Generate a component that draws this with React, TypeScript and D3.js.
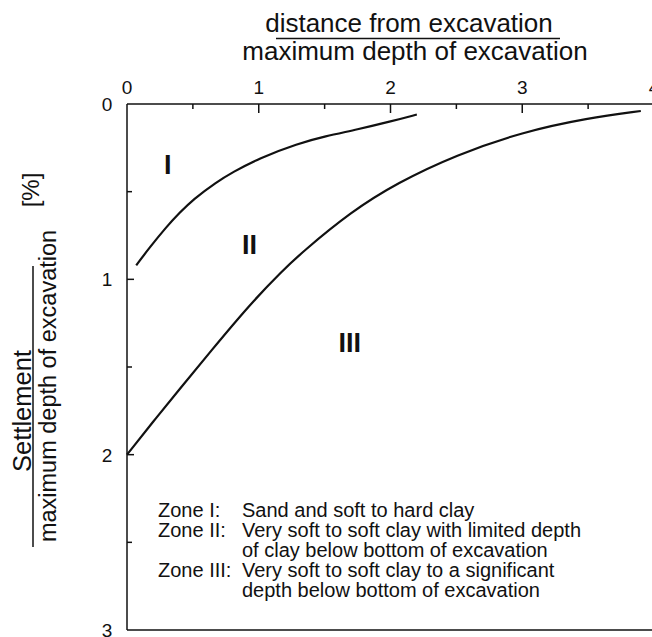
import React from "react";
import * as d3 from "d3";

// ---- data ----
const xTicks = [0, 1, 2, 3, 4];
const xMinorTicks = [0.5, 1.5, 2.5, 3.5];
const yTicks = [0, 1, 2, 3];
const yMinorTicks = [0.5, 1.5, 2.5];

const curveIX = [0.07, 0.17, 0.3, 0.4, 0.5, 0.68, 0.8, 1.0, 1.3, 1.5, 1.75, 2.0, 2.2];
const curveIY = [0.92, 0.82, 0.7, 0.62, 0.545, 0.445, 0.39, 0.31, 0.225, 0.185, 0.145, 0.1, 0.06];

const curveIIX = [0, 0.2, 0.4, 0.63, 0.93, 1.18, 1.33, 1.7, 2.05, 2.5, 3.0, 3.5, 3.9];
const curveIIY = [2.0, 1.81, 1.625, 1.415, 1.145, 0.95, 0.845, 0.615, 0.45, 0.29, 0.16, 0.08, 0.04];

const zoneLabels = ["I", "II", "III"];
const zoneLabelX = [0.31, 0.93, 1.69];
const zoneLabelY = [0.34, 0.8, 1.36];

const legendKeys = ["Zone I:", "Zone II:", "", "Zone III:", ""];
const legendTexts = [
  "Sand and soft to hard clay",
  "Very soft to soft clay with limited depth",
  "of clay below bottom of excavation",
  "Very soft to soft clay to a significant",
  "depth below bottom of excavation",
];

const xTitleTop = "distance from excavation";
const xTitleBottom = "maximum depth of excavation";
const yTitleTop = "Settlement";
const yTitleBottom = "maximum depth of excavation";
const yUnit = "[%]";

const W = 652;
const H = 637;
const FONT = "'Liberation Sans', Arial, Helvetica, sans-serif";
const INK = "#111";

export default function App() {
  const x = d3.scaleLinear().domain([0, 4]).range([127, 654]);
  const y = d3.scaleLinear().domain([0, 3]).range([104, 630]);

  const line = d3
    .line<[number, number]>()
    .x((d) => x(d[0]))
    .y((d) => y(d[1]))
    .curve(d3.curveBasis);

  const c1: [number, number][] = curveIX.map((v, i) => [v, curveIY[i]]);
  const c2: [number, number][] = curveIIX.map((v, i) => [v, curveIIY[i]]);

  const x0 = x(0);
  const y0 = y(0);
  const y3 = y(3);

  return (
    <svg
      width={W}
      height={H}
      style={{ position: "absolute", left: 0, top: 0, background: "#fff" }}
      fontFamily={FONT}
    >
      <rect x={0} y={0} width={W} height={H} fill="#fff" />
      {/* top title */}
      <text x={409} y={32} fontSize={26} textAnchor="middle" fill={INK}>
        {xTitleTop}
      </text>
      <line x1={276} x2={560} y1={38.5} y2={38.5} stroke={INK} strokeWidth={1.5} />
      <text x={415} y={60} fontSize={26} textAnchor="middle" fill={INK}>
        {xTitleBottom}
      </text>

      {/* left title */}
      <text
        transform={`translate(31,411) rotate(-90)`}
        fontSize={25.5}
        textAnchor="middle"
        fill={INK}
      >
        {yTitleTop}
      </text>
      <line x1={33} x2={33} y1={266} y2={547} stroke={INK} strokeWidth={1.5} />
      <text
        transform={`translate(56,386) rotate(-90)`}
        fontSize={23.5}
        textAnchor="middle"
        fill={INK}
      >
        {yTitleBottom}
      </text>
      <text
        transform={`translate(39,190) rotate(-90)`}
        fontSize={24}
        textAnchor="middle"
        fill={INK}
      >
        {yUnit}
      </text>

      {/* axes */}
      <line x1={x0} x2={W} y1={y0} y2={y0} stroke={INK} strokeWidth={1.5} />
      <line x1={x0} x2={x0} y1={y0} y2={y3} stroke={INK} strokeWidth={1.5} />
      <line x1={x0} x2={W} y1={y3} y2={y3} stroke={INK} strokeWidth={1.5} />

      {xTicks.map((t) => (
        <g key={"xt" + t}>
          {t > 0 && (
            <line x1={x(t)} x2={x(t)} y1={y0} y2={y0 + 9} stroke={INK} strokeWidth={1.5} />
          )}
          <text x={x(t)} y={94} fontSize={19} textAnchor="middle" fill={INK}>
            {t}
          </text>
        </g>
      ))}
      {xMinorTicks.map((t) => (
        <line key={"xm" + t} x1={x(t)} x2={x(t)} y1={y0} y2={y0 + 5} stroke={INK} strokeWidth={1.5} />
      ))}
      {yTicks.map((t) => (
        <g key={"yt" + t}>
          {t > 0 && t < 3 && (
            <line x1={x0} x2={x0 + 7} y1={y(t)} y2={y(t)} stroke={INK} strokeWidth={1.5} />
          )}
          <text x={107} y={y(t) + 7} fontSize={19} textAnchor="middle" fill={INK}>
            {t}
          </text>
        </g>
      ))}
      {yMinorTicks.map((t) => (
        <line key={"ym" + t} x1={x0} x2={x0 + 5} y1={y(t)} y2={y(t)} stroke={INK} strokeWidth={1.5} />
      ))}

      {/* curves */}
      <path d={line(c1) || ""} fill="none" stroke={INK} strokeWidth={2.2} />
      <path d={line(c2) || ""} fill="none" stroke={INK} strokeWidth={2.2} />

      {/* zone labels */}
      {zoneLabels.map((z, i) => (
        <text
          key={z}
          x={x(zoneLabelX[i])}
          y={y(zoneLabelY[i]) + 10}
          fontSize={27}
          fontWeight="bold"
          textAnchor="middle"
          fill={INK}
        >
          {z}
        </text>
      ))}

      {/* legend */}
      {legendTexts.map((t, i) => (
        <g key={"lg" + i}>
          {legendKeys[i] && (
            <text x={158} y={517 + i * 20} fontSize={20} fill={INK}>
              {legendKeys[i]}
            </text>
          )}
          <text x={242} y={517 + i * 20} fontSize={20} fill={INK}>
            {t}
          </text>
        </g>
      ))}
    </svg>
  );
}
